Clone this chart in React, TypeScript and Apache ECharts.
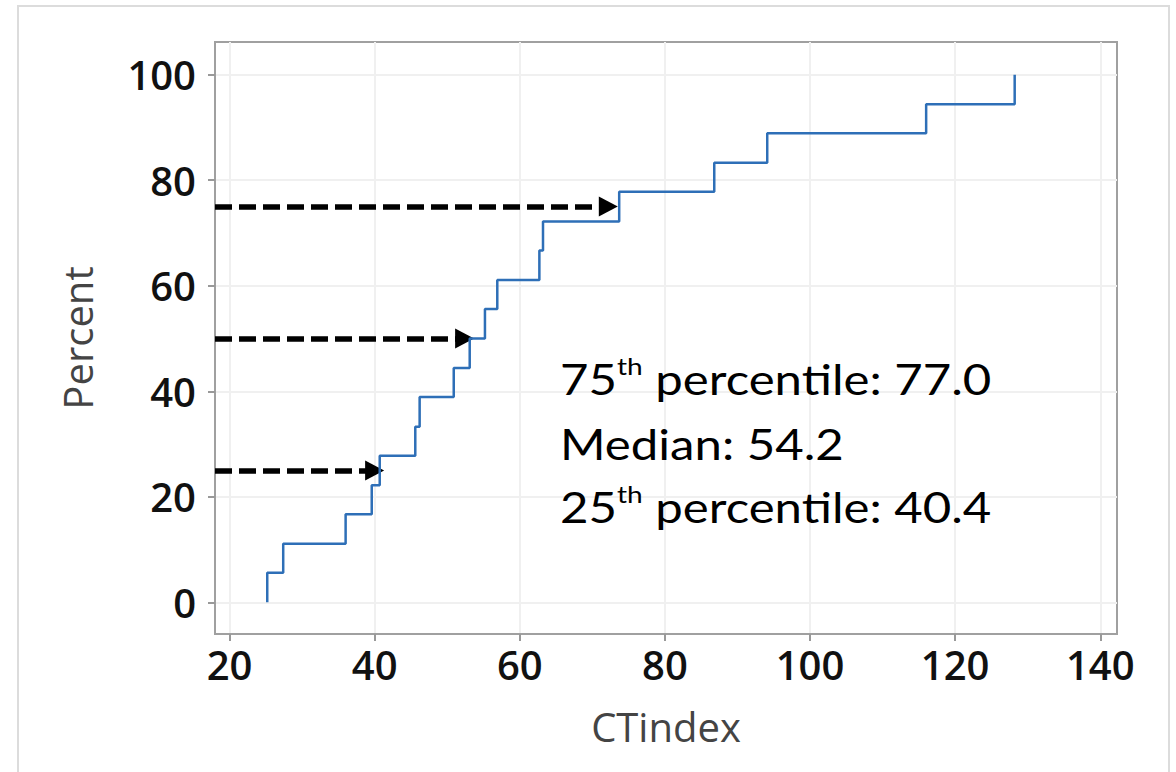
import React, { useEffect, useRef } from "react";
import * as echarts from "echarts";

// ECDF of CTindex (sorted sample values) and cumulative percent
const ctIndex = [25.2, 27.4, 36.0, 39.6, 40.7, 45.6, 46.2, 50.9, 53.1, 55.2, 56.9, 62.7, 63.2, 73.7, 86.8, 94.1, 116.0, 128.2];
const cumPercent = [5.6, 11.1, 16.7, 22.2, 27.8, 33.3, 38.9, 44.4, 50.0, 55.6, 61.1, 66.7, 72.2, 77.8, 83.3, 88.9, 94.4, 100];
const startPercent = 0;

const xTicks = [20, 40, 60, 80, 100, 120, 140];
const yTicks = [0, 20, 40, 60, 80, 100];

// percentile arrows: level (y), start x, arrow end x
const arrowLevels = [75, 50, 25];
const arrowStartX = 18;
const arrowEndX = [72.2, 52.4, 40.0];

const annotationLines = [
  { main: "75", sup: "th", rest: " percentile: 77.0" },
  { main: "Median: 54.2", sup: "", rest: "" },
  { main: "25", sup: "th", rest: " percentile: 40.4" },
];

export default function App() {
  const ref = useRef<HTMLDivElement>(null);

  useEffect(() => {
    document.body.style.margin = "0";
    const chart = echarts.init(ref.current!, null, { renderer: "svg" });

    const stepData: number[][] = [[ctIndex[0], startPercent]];
    ctIndex.forEach((x, i) => stepData.push([x, cumPercent[i]]));

    const labelFont = { fontFamily: "Open Sans", fontSize: 40, fontWeight: 600, color: "#111" };

    const annoY = [378.7, 443.7, 506.7];
    const rich = {
      a: { fontFamily: "Lato", fontSize: 42, lineHeight: 50, verticalAlign: "middle", fill: "#000" },
      s: { fontFamily: "Lato", fontSize: 24, lineHeight: 30, verticalAlign: "top", fill: "#000" },
    };

    chart.setOption({
      animation: false,
      backgroundColor: "#ffffff",
      grid: {
        left: 215,
        top: 42,
        right: 59,
        bottom: 138,
        show: true,
        borderColor: "#a0a0a0",
        borderWidth: 2,
        backgroundColor: "#ffffff",
      },
      xAxis: {
        type: "value",
        min: 18,
        max: 142.3,
        name: "CTindex",
        nameLocation: "middle",
        nameGap: 72,
        nameTextStyle: { fontFamily: "Open Sans", fontSize: 40, color: "#444" },
        axisLine: { show: true, onZero: false, lineStyle: { color: "#a0a0a0", width: 2 } },
        axisTick: { show: true, customValues: xTicks, length: 7, lineStyle: { color: "#999", width: 2 } },
        axisLabel: { customValues: xTicks, margin: 10, ...labelFont },
        splitLine: { show: true, lineStyle: { color: "#f0f0f0", width: 2 } },
      },
      yAxis: {
        type: "value",
        min: -6,
        max: 106.2,
        name: "Percent",
        nameLocation: "middle",
        nameGap: 118,
        nameRotate: 90,
        nameTextStyle: { fontFamily: "Open Sans", fontSize: 40, color: "#444" },
        axisLine: { show: true, onZero: false, lineStyle: { color: "#a0a0a0", width: 2 } },
        axisTick: { show: true, customValues: yTicks, length: 7, lineStyle: { color: "#999", width: 2 } },
        axisLabel: { customValues: yTicks, margin: 19, ...labelFont },
        splitLine: { show: true, lineStyle: { color: "#f0f0f0", width: 2 } },
      },
      series: [
        {
          type: "line",
          step: "end",
          data: stepData,
          showSymbol: false,
          symbol: "none",
          lineStyle: { color: "#2e6fb7", width: 2.5 },
          silent: true,
          z: 5,
          markLine: {
            silent: true,
            symbol: ["none", "triangle"],
            symbolSize: [20, 19],
            label: { show: false },
            emphasis: { disabled: true },
            lineStyle: { color: "#000", width: 5.5, type: [17, 7] },
            data: arrowLevels.map((lvl, i) => [
              { coord: [arrowStartX, lvl] },
              { coord: [arrowEndX[i], lvl] },
            ]),
          },
        },
      ],
      graphic: [
        {
          type: "rect",
          shape: { x: 18, y: 6, width: 1151, height: 800 },
          style: { fill: "none", stroke: "#dcdcdc", lineWidth: 2 },
          silent: true,
          z: -1,
        },
        ...annotationLines.map((l, i) => ({
          type: "text",
          x: 560,
          y: annoY[i],
          scaleX: 1.17,
          z: 100,
          silent: true,
          style: {
            text:
              l.sup !== ""
                ? `{a|${l.main}}{s|${l.sup}}{a|${l.rest}}`
                : `{a|${l.main}}`,
            align: "left",
            verticalAlign: "middle",
            rich,
          },
        })),
      ],
    });

    return () => chart.dispose();
  }, []);

  return <div ref={ref} style={{ width: 1176, height: 772 }} />;
}
